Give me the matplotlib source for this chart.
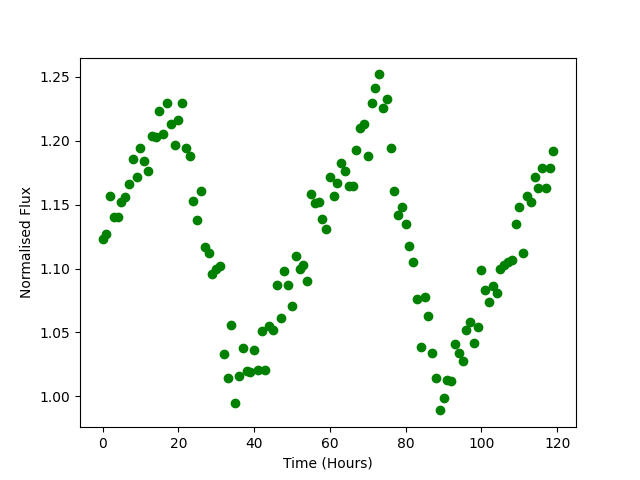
import numpy as np
import matplotlib
matplotlib.use('Agg')
import matplotlib.pyplot as plt

hours = np.arange(120)
flux = [1.123, 1.127, 1.157, 1.140, 1.140, 1.152, 1.156, 1.166, 1.186, 1.172,
        1.194, 1.184, 1.176, 1.204, 1.203, 1.223, 1.205, 1.230, 1.213, 1.197,
        1.216, 1.230, 1.194, 1.188, 1.153, 1.138, 1.161, 1.117, 1.112, 1.096,
        1.100, 1.102, 1.033, 1.014, 1.056, 0.995, 1.016, 1.038, 1.020, 1.019,
        1.036, 1.021, 1.051, 1.021, 1.055, 1.052, 1.087, 1.061, 1.098, 1.087,
        1.071, 1.110, 1.100, 1.103, 1.090, 1.158, 1.151, 1.152, 1.139, 1.131,
        1.172, 1.157, 1.167, 1.183, 1.176, 1.165, 1.165, 1.193, 1.210, 1.213,
        1.188, 1.230, 1.241, 1.252, 1.226, 1.233, 1.194, 1.161, 1.142, 1.148,
        1.135, 1.118, 1.105, 1.076, 1.039, 1.078, 1.063, 1.034, 1.014, 0.989,
        0.999, 1.013, 1.012, 1.041, 1.034, 1.028, 1.052, 1.058, 1.042, 1.054,
        1.099, 1.083, 1.074, 1.086, 1.081, 1.100, 1.103, 1.105, 1.107, 1.135,
        1.148, 1.112, 1.157, 1.152, 1.172, 1.163, 1.179, 1.163, 1.179, 1.192]

plt.figure(figsize=(6.4, 4.8), dpi=100)
plt.plot(hours, flux, 'o', color='green')
plt.xlabel('Time (Hours)')
plt.ylabel('Normalised Flux')
plt.savefig('out.png')
